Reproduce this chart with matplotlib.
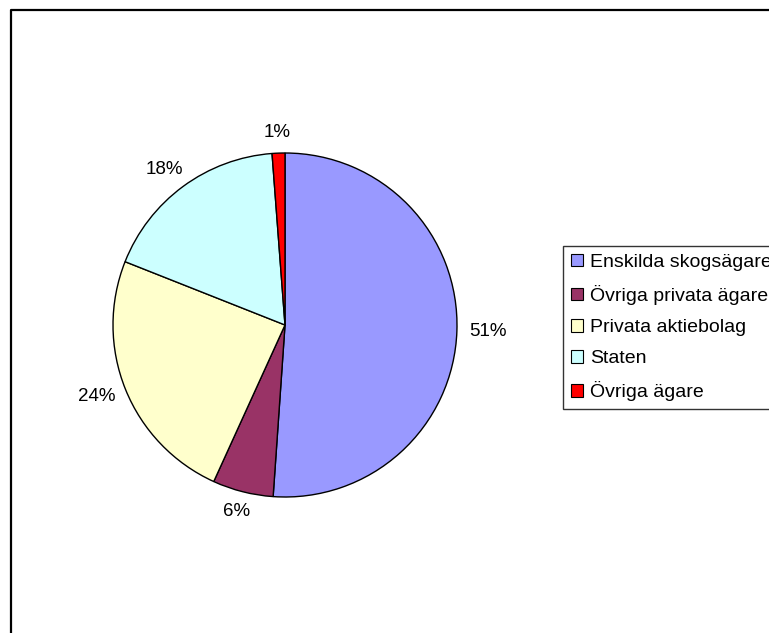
import numpy as np
import matplotlib.pyplot as plt
from matplotlib.patches import Rectangle
from matplotlib.lines import Line2D

plt.rcParams['font.family'] = ['Liberation Sans', 'DejaVu Sans']

owners = ['Enskilda skogsägare', 'Övriga privata ägare', 'Privata aktiebolag',
          'Staten', 'Övriga ägare']
shares = [51.1, 5.7, 24.2, 17.8, 1.2]
colors = ['#9999FF', '#993366', '#FFFFCC', '#CCFFFF', '#FF0000']

W, H = 769, 633
fig = plt.figure(figsize=(W/100, H/100), dpi=100)

# pie axes: centre at (285, 325) px, radius 172 px
cx, cy, r, half = 285, 325, 172, 200
ax = fig.add_axes([(cx-half)/W, (H-cy-half)/H, 2*half/W, 2*half/H])
wedges, texts, autotexts = ax.pie(
    shares, colors=colors, startangle=90, counterclock=False,
    autopct='%1.0f%%', pctdistance=1.15,
    wedgeprops=dict(edgecolor='black', linewidth=1.0),
    textprops=dict(fontsize=13.5))
lim = half / r
ax.set_xlim(-lim, lim)
ax.set_ylim(-lim, lim)

# put each label just outside the pie edge, like Excel does
fig.canvas.draw()
gap = 12 / r
for w, t in zip(wedges, autotexts):
    ang = np.deg2rad((w.theta1 + w.theta2) / 2)
    dx, dy = np.cos(ang), np.sin(ang)
    bb = t.get_window_extent()
    hw, hh = bb.width / 2 / r, bb.height / 2 / r
    t.set_position(((1 + gap) * dx + hw * dx, (1 + gap) * dy + hh * dy))
    t.set_ha('center')
    t.set_va('center')

# outer frame (only top and left visible)
fig.add_artist(Line2D([11/W, 11/W, 1.0], [0.0, 1-10/H, 1-10/H],
                      transform=fig.transFigure, color='black', linewidth=1.6))

handles = [Rectangle((0, 0), 1, 1, facecolor=c, edgecolor='black', linewidth=0.8)
           for c in colors]
leg = fig.legend(handles, owners, loc='upper left',
                 bbox_to_anchor=(563/W, 1-246/H), bbox_transform=fig.transFigure,
                 fontsize=14, frameon=True, fancybox=False, shadow=False,
                 handlelength=0.62, handleheight=0.62, handletextpad=0.35,
                 labelspacing=0.72, borderpad=0.4, borderaxespad=0)
leg.get_frame().set_edgecolor('black')
leg.get_frame().set_linewidth(1.0)

fig.savefig('out.png', dpi=100)
